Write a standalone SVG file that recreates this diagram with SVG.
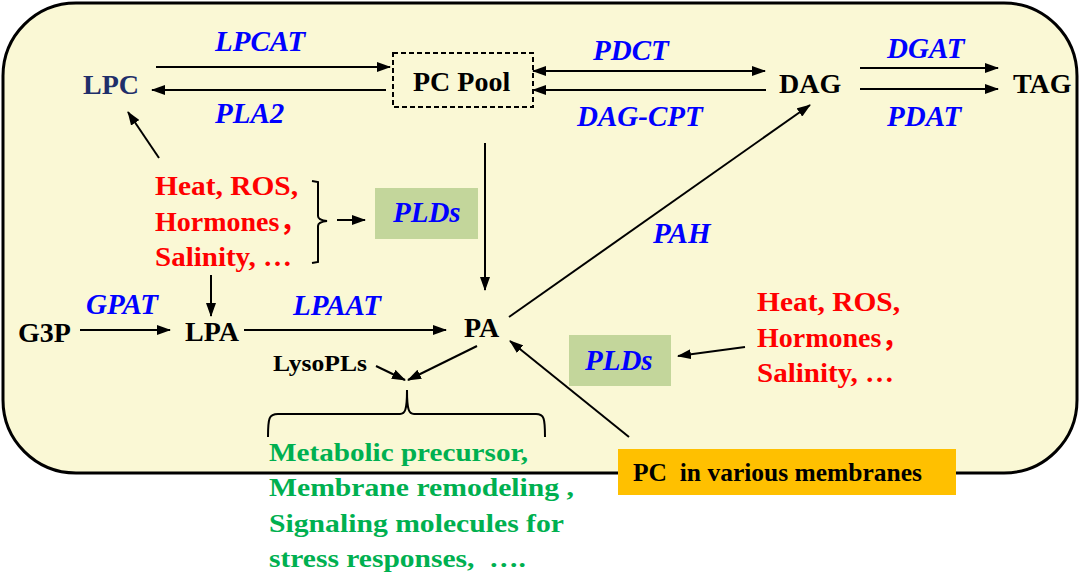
<svg xmlns="http://www.w3.org/2000/svg" width="1080" height="576" viewBox="0 0 1080 576">
<defs>
<marker id="ah" viewBox="0 0 14 10" refX="13" refY="5" markerWidth="14" markerHeight="10" markerUnits="userSpaceOnUse" orient="auto-start-reverse">
<path d="M0,0 L14,5 L0,10 z" fill="#000"/>
</marker>
<style>
.t{font-family:"Liberation Serif","Noto Sans CJK SC",serif;font-weight:bold;}
.k{font-size:28px;fill:#000;}
.e{font-size:29px;fill:#0000FF;font-style:italic;}
.r{font-size:28px;fill:#FF0000;}
.g{font-size:25.5px;fill:#00B050;}
.c{stroke:#000;stroke-width:2;fill:none;}
.a{marker-end:url(#ah);}
</style>
</defs>
<rect x="3" y="3" width="1074" height="470" rx="73" ry="73" fill="#FAF8D5" stroke="#000" stroke-width="3"/>

<g id="connectors">
<line class="c a" x1="156" y1="67" x2="390" y2="67"/>
<line class="c a" x1="386" y1="90" x2="152" y2="90"/>
<line class="c a" x1="533" y1="71" x2="765" y2="71" style="marker-start:url(#ah)"/>
<line class="c a" x1="766" y1="90" x2="533" y2="90"/>
<line class="c a" x1="860" y1="68" x2="998" y2="68"/>
<line class="c a" x1="860" y1="89" x2="998" y2="89"/>
<line class="c a" x1="159" y1="158" x2="128" y2="112"/>
<line class="c a" x1="485" y1="143" x2="485" y2="290"/>
<line class="c a" x1="211" y1="275" x2="211" y2="316"/>
<line class="c a" x1="80" y1="330" x2="170" y2="330"/>
<line class="c a" x1="244" y1="330" x2="446" y2="330"/>
<line class="c a" x1="509" y1="317" x2="810" y2="105"/>
<line class="c a" x1="629" y1="437" x2="510" y2="341"/>
<line class="c a" x1="745" y1="347" x2="678" y2="356"/>
<line class="c a" x1="376" y1="366" x2="405" y2="380"/>
<line class="c a" x1="477" y1="346" x2="408" y2="380"/>
<line class="c a" x1="337" y1="220" x2="365" y2="220"/>
<path class="c" d="M312,181 L318,182 L318,216 Q318,220 327,221 Q318,222 318,226 L318,262 L312,263"/>
<path class="c" stroke-width="2.5" d="M268,437 C268,418 269,414 278,414 L400,414 C405,414 407,410 407,390 C407,410 409,414 414,414 L536,414 C544,414 545,418 545,437"/>
</g>

<g id="enzymes">
<text class="t e" x="215" y="51">LPCAT</text>
<text class="t e" x="215" y="123">PLA2</text>
<text class="t e" x="593" y="60">PDCT</text>
<text class="t e" x="577" y="126">DAG-CPT</text>
<text class="t e" x="887" y="58">DGAT</text>
<text class="t e" x="887" y="126">PDAT</text>
<text class="t e" x="653" y="243">PAH</text>
<text class="t e" x="86" y="314">GPAT</text>
<text class="t e" x="293" y="315">LPAAT</text>
</g>

<g id="LPC"><text class="t k" x="83" y="94" style="fill:#1F2F6A">LPC</text></g>
<g id="PCPool">
<rect x="393" y="53" width="140" height="54" fill="none" stroke="#000" stroke-width="2" stroke-dasharray="5,3"/>
<text class="t k" x="413" y="91">PC Pool</text>
</g>
<g id="DAG"><text class="t k" x="779" y="93">DAG</text></g>
<g id="TAG"><text class="t k" x="1013" y="93">TAG</text></g>
<g id="G3P"><text class="t k" x="18" y="342">G3P</text></g>
<g id="LPA"><text class="t k" x="185" y="341">LPA</text></g>
<g id="PA"><text class="t k" x="464" y="337">PA</text></g>
<g id="LysoPLs"><text class="t" x="273" y="371" font-size="23" fill="#000" textLength="94" lengthAdjust="spacingAndGlyphs">LysoPLs</text></g>

<g id="stress1">
<text class="t r" x="155" y="195" textLength="143" lengthAdjust="spacingAndGlyphs">Heat, ROS,</text>
<text class="t r" x="155" y="231">Hormones，</text>
<text class="t r" x="155" y="266" textLength="137" lengthAdjust="spacingAndGlyphs">Salinity, …</text>
</g>
<g id="PLDs1">
<rect x="375" y="188" width="103" height="51" fill="#C3D69B"/>
<text class="t e" x="393" y="222">PLDs</text>
</g>
<g id="stress2">
<text class="t r" x="757" y="311" textLength="143" lengthAdjust="spacingAndGlyphs">Heat, ROS,</text>
<text class="t r" x="757" y="347">Hormones，</text>
<text class="t r" x="757" y="382" textLength="137" lengthAdjust="spacingAndGlyphs">Salinity, …</text>
</g>
<g id="PLDs2">
<rect x="569" y="335" width="102" height="51" fill="#C3D69B"/>
<text class="t e" x="585" y="370">PLDs</text>
</g>
<g id="PCmem">
<rect x="618" y="449" width="338" height="46" fill="#FFC000"/>
<text class="t" x="633" y="481" font-size="25" fill="#000" textLength="289" lengthAdjust="spacingAndGlyphs" xml:space="preserve">PC  in various membranes</text>
</g>
<g id="functions">
<text class="t g" x="269" y="461" textLength="259" lengthAdjust="spacingAndGlyphs">Metabolic precursor,</text>
<text class="t g" x="269" y="496" textLength="305" lengthAdjust="spacingAndGlyphs">Membrane remodeling ,</text>
<text class="t g" x="269" y="532" textLength="295" lengthAdjust="spacingAndGlyphs">Signaling molecules for</text>
<text class="t g" x="269" y="567" textLength="257" lengthAdjust="spacingAndGlyphs" xml:space="preserve">stress responses,  ….</text>
</g>
</svg>
